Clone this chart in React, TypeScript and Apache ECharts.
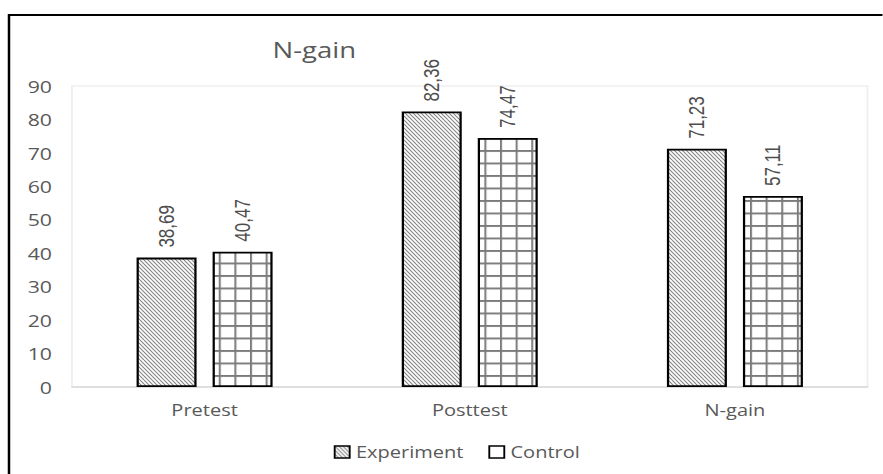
import React, { useEffect, useRef } from "react";
import * as echarts from "echarts";

const categories = ["Pretest", "Posttest", "N-gain"];
const experiment = [38.69, 82.36, 71.23];
const control = [40.47, 74.47, 57.11];
const seriesNames = ["Experiment", "Control"];
const yMin = 0;
const yMax = 90;
const yInterval = 10;

const SX = 1.25;
const W = 883 / SX;
const H = 474;
const FONT = "'Open Sans', sans-serif";

function makeHatch() {
  const r = 4;
  const w = 16;
  const h = 20;
  const c = document.createElement("canvas");
  c.width = w * r;
  c.height = h * r;
  const ctx = c.getContext("2d")!;
  ctx.fillStyle = "#ffffff";
  ctx.fillRect(0, 0, c.width, c.height);
  ctx.strokeStyle = "#6a6a6a";
  ctx.lineWidth = 0.8 * r;
  ctx.beginPath();
  for (let k = -7; k <= 7; k++) {
    const x0 = k * 3.2 * r;
    ctx.moveTo(x0, 0);
    ctx.lineTo(x0 + w * r, h * r);
  }
  ctx.stroke();
  return { image: c, repeat: "repeat", imageWidth: w, imageHeight: h } as any;
}

function makeGrid() {
  const r = 4;
  const s = 12.5;
  const c = document.createElement("canvas");
  c.width = s * r;
  c.height = s * r;
  const ctx = c.getContext("2d")!;
  ctx.fillStyle = "#ffffff";
  ctx.fillRect(0, 0, c.width, c.height);
  ctx.fillStyle = "#7a7a7a";
  ctx.fillRect(0, 0, 1.6 * r, c.height);
  ctx.fillRect(0, 0, c.width, 2 * r);
  return { image: c, repeat: "repeat", imageWidth: s, imageHeight: s } as any;
}

export default function App() {
  const ref = useRef<HTMLDivElement>(null);
  useEffect(() => {
    if (!ref.current) return;
    const chart = echarts.init(ref.current, null, { renderer: "svg" });
    const hatch = makeHatch();
    const grid = makeGrid();
    const fmt = (p: any) => Number(p.value).toFixed(2).replace(".", ",");
    const label = {
      show: true,
      position: "top",
      rotate: 90,
      align: "left",
      verticalAlign: "middle",
      distance: 10,
      fontSize: 17,
      color: "#4d4d4d",
      fontFamily: "'Liberation Sans', sans-serif",
      formatter: fmt,
    };
    chart.setOption({
      animation: false,
      textStyle: { fontFamily: FONT },
      title: {
        text: "N-gain",
        left: 213,
        top: 33,
        textStyle: { fontSize: 22, fontWeight: "normal", color: "#595959", fontFamily: FONT },
      },
      legend: {
        left: 262,
        top: 439,
        itemWidth: 12,
        itemHeight: 12,
        itemGap: 20,
        textStyle: { fontSize: 16, color: "#595959", fontFamily: FONT },
        data: [
          { name: seriesNames[0], icon: "rect", itemStyle: { color: hatch, borderColor: "#000", borderWidth: 1.5 } },
          { name: seriesNames[1], icon: "rect", itemStyle: { color: "#fff", borderColor: "#000", borderWidth: 1.5 } },
        ],
      },
      grid: {
        left: 57.6,
        right: 12,
        top: 86,
        bottom: 87,
        show: true,
        borderColor: "#efefef",
        borderWidth: 1.5,
        backgroundColor: "transparent",
      },
      xAxis: {
        type: "category",
        data: categories,
        axisLine: { lineStyle: { color: "#d9d9d9", width: 1.5 } },
        axisTick: { show: false },
        axisLabel: { color: "#595959", fontSize: 16, margin: 15, fontFamily: FONT },
      },
      yAxis: {
        type: "value",
        min: yMin,
        max: yMax,
        interval: yInterval,
        axisLine: { show: false },
        axisTick: { show: false },
        splitLine: { show: false },
        axisLabel: { color: "#595959", fontSize: 17, margin: 16, fontFamily: FONT },
      },
      series: [
        {
          name: seriesNames[0],
          type: "bar",
          data: experiment,
          barWidth: 48,
          barGap: "26.7%",
          itemStyle: { color: hatch, borderColor: "#000", borderWidth: 1.8 },
          label,
        },
        {
          name: seriesNames[1],
          type: "bar",
          data: control,
          barWidth: 48,
          barGap: "26.7%",
          itemStyle: { color: grid, borderColor: "#000", borderWidth: 1.8 },
          label,
        },
      ],
      graphic: [
        {
          type: "rect",
          silent: true,
          z: 100,
          shape: { x: 7.2, y: 15, width: 2000, height: 2000 },
          style: { fill: "none", stroke: "#000", lineWidth: 2 },
        },
      ],
    });
    return () => chart.dispose();
  }, []);
  return (
    <div
      ref={ref}
      style={{
        position: "absolute",
        left: 0,
        top: 0,
        width: W,
        height: H,
        transform: `scaleX(${SX})`,
        transformOrigin: "0 0",
      }}
    />
  );
}
